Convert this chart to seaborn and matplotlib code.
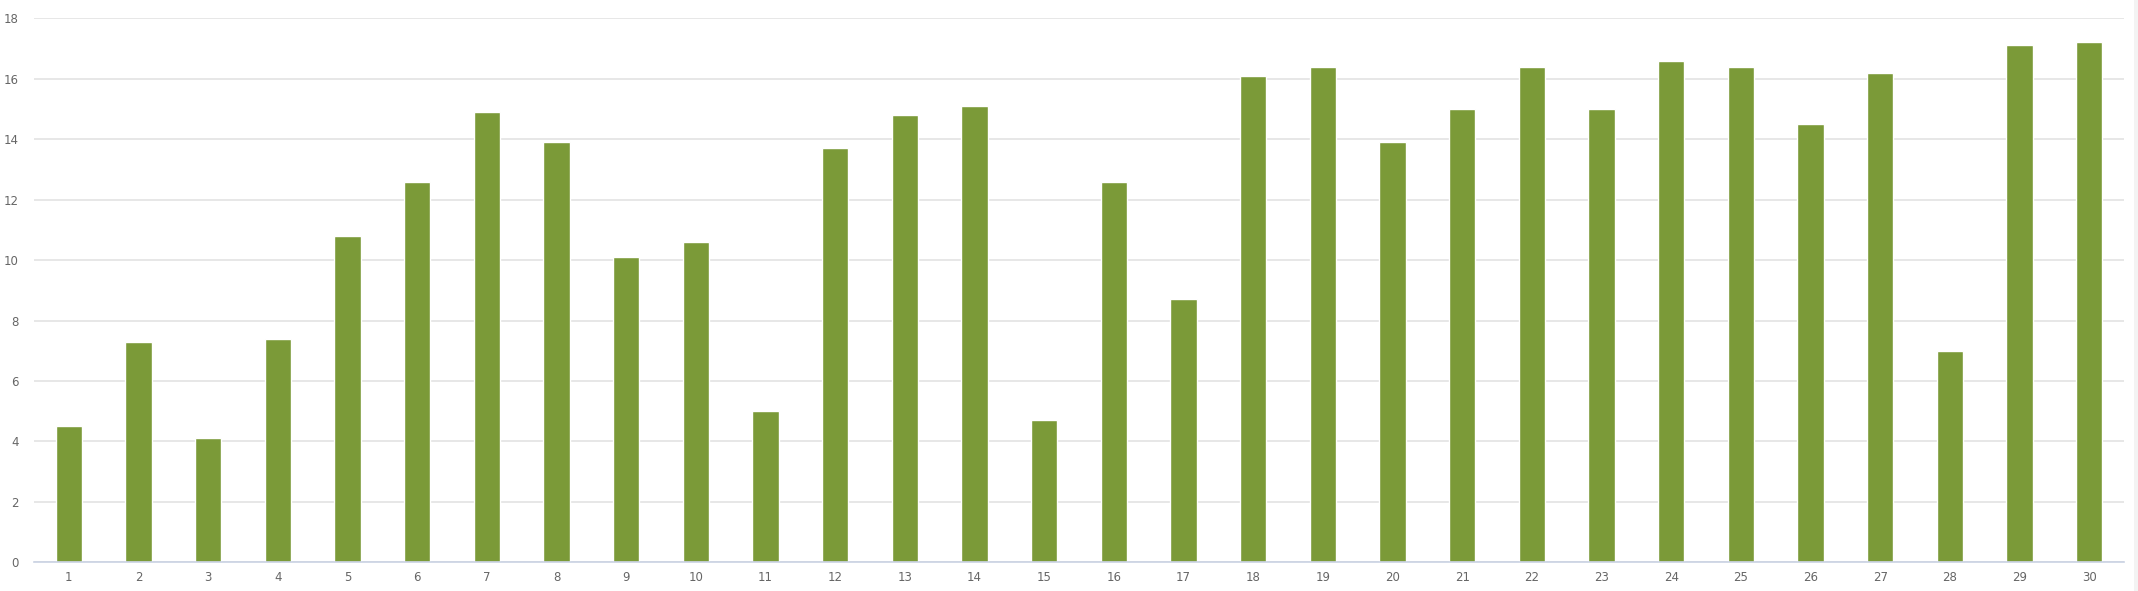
import pandas as pd
import matplotlib
matplotlib.use('Agg')
import matplotlib.pyplot as plt
import seaborn as sns
from matplotlib.patches import Rectangle

# dados
days = [str(d) for d in range(1, 31)]
values = [4.5, 7.3, 4.1, 7.4, 10.8, 12.6, 14.9, 13.9, 10.1, 10.6,
          5.0, 13.7, 14.8, 15.1, 4.7, 12.6, 8.7, 16.1, 16.4, 13.9,
          15.0, 16.4, 15.0, 16.6, 16.4, 14.5, 16.2, 7.0, 17.1, 17.2]
y_ticks = [0, 2, 4, 6, 8, 10, 12, 14, 16, 18]

df = pd.DataFrame({'dia': days, 'valor': values})

sns.set_style('white')
plt.rcParams['font.family'] = ['DejaVu Sans']

fig = plt.figure(figsize=(21.38, 5.91), dpi=100)
ax = fig.add_axes([34 / 2138, 1 - 562.3 / 591, (2124 - 34) / 2138, (562.3 - 18.3) / 591])

sns.barplot(data=df, x='dia', y='valor', color='#7b9a38', width=0.375,
            saturation=1, ax=ax, zorder=3)

ax.set_xlim(-0.5, len(days) - 0.5)
ax.set_ylim(0, 18)
ax.set_yticks(y_ticks)
ax.yaxis.grid(True, color='#e3e3e3', linewidth=1.2, zorder=0)
ax.set_axisbelow(True)
ax.set_xlabel('')
ax.set_ylabel('')

for side in ['top', 'right', 'left']:
    ax.spines[side].set_visible(False)
ax.spines['bottom'].set_color('#c9d2e3')
ax.spines['bottom'].set_linewidth(1.2)
ax.spines['bottom'].set_zorder(4)

ax.tick_params(axis='y', length=0, pad=11, labelsize=8.5, labelcolor='#666666')
ax.tick_params(axis='x', length=0, pad=6.5, labelsize=8.5, labelcolor='#666666')

# faixa cinza na borda direita
fig.patches.append(Rectangle((2134 / 2138, 0), 4 / 2138, 1, transform=fig.transFigure,
                             facecolor='#f3f3f3', edgecolor='none', zorder=0))

fig.savefig('out.png', dpi=100)
